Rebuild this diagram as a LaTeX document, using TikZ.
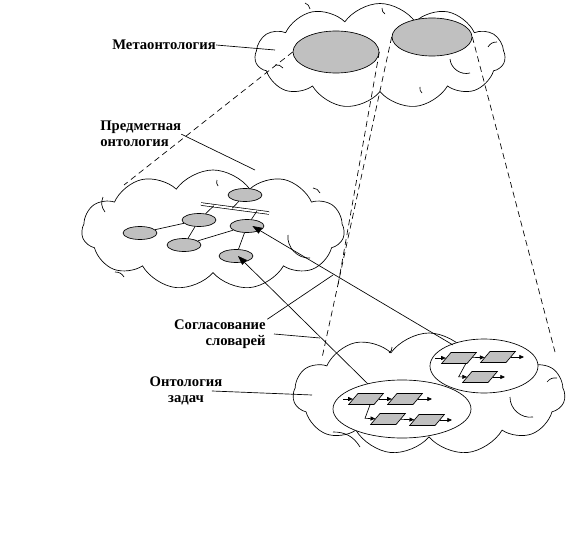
\documentclass[tikz,border=0pt]{standalone}
\usepackage{fontspec}
\setmainfont{Liberation Serif}
\usepackage{xcolor}
\usepackage{tikz}
\usetikzlibrary{arrows.meta,shapes.symbols,shapes.geometric,calc}
\definecolor{silver}{RGB}{192,192,192}

\begin{document}
\begin{tikzpicture}[x=0.75pt,y=-0.75pt,line width=0.5pt]
    \tikzstyle{cloudy} = [draw,cloud,cloud puffs=11,cloud puff arc=110,fill=white,inner sep=0pt]
    \tikzstyle{concept} = [draw,ellipse,fill=silver,inner sep=0pt,minimum width=25.5pt,minimum height=9.75pt]
    \tikzstyle{group} = [draw,ellipse,fill=white,inner sep=0pt]
    \tikzstyle{task} = [draw,trapezium,trapezium left angle=60,trapezium right angle=120,trapezium stretches=true,fill=silver,inner sep=0.5pt,minimum width=26pt,minimum height=8.25pt]
    \tikzstyle{lbl} = [font=\bfseries\fontsize{11}{12}\selectfont,inner sep=0pt]
    \tikzstyle{proj} = [dash pattern=on 4.5pt off 3pt]
    \tikzstyle{flow} = [-{Triangle[length=7pt,width=5pt]}]
    \tikzstyle{small} = [-{Triangle[length=3.5pt,width=3pt]}]

    \useasboundingbox (0,0) rectangle (568,560);

    % clouds
    \node[cloudy,minimum width=187.5pt,minimum height=78.75pt] (meta) at (380,56) {};
    \node[cloudy,minimum width=197pt,minimum height=90pt] (subj) at (213,230) {};
    \node[cloudy,minimum width=204pt,minimum height=91.5pt] (tasks) at (429,394) {};

    % inner puff lines
    \draw (450,59) to[bend right=50] (470,73);
    \draw (488,47) to[bend left=30] (497,42);
    \draw (275,65) to[bend left=30] (283,68);
    \draw (305,3) to[bend left=30] (310,9);
    \draw (382,8) to[bend right=30] (385,14);
    \draw (420,87) to[bend right=30] (422,93);
    \draw (288,235) to[bend right=50] (310,258);
    \draw (103,197) to[bend right=30] (105,212);
    \draw (115,272) to[bend left=30] (124,277);
    \draw (313,188) to[bend left=30] (320,193);
    \draw (217,180) to[bend right=30] (218,186);
    \draw (510,397) to[bend right=50] (533,417);
    \draw (333,432) to[bend left=30] (360,447);
    \draw (547,382) to[bend left=30] (557,378);
    \draw (392,347) to[bend left=30] (389,353);

    % metaontology
    \node[draw,ellipse,fill=silver,minimum width=64.5pt,minimum height=31.5pt] (metaA) at (336,52) {};
    \node[draw,ellipse,fill=silver,minimum width=60pt,minimum height=28.5pt] (metaB) at (432,37) {};

    % subject ontology
    \node[concept] (ntop) at (245,195) {};
    \node[concept] (nmid) at (199,220) {};
    \node[concept] (nleft) at (140,233) {};
    \node[concept] (nlow) at (184,245) {};
    \node[concept] (nright) at (247,226) {};
    \node[concept] (nbot) at (236,256) {};
    \coordinate (bar1) at (201,204);
    \coordinate (bar2) at (269,213);
    \draw[double,double distance=1.5pt] (bar1) -- (bar2);
    \draw (ntop) -- ($(bar1)!0.46!(bar2)$);
    \draw (nmid) -- ($(bar1)!0.19!(bar2)$);
    \draw (nright) -- ($(bar1)!0.82!(bar2)$);
    \draw (nleft) -- (nmid);
    \draw (nmid) -- (nlow);
    \draw (nlow) -- (nright);
    \draw (nright) -- (nbot);

    % task ontology
    \node[group,minimum width=81pt,minimum height=40.5pt] (groupA) at (484,366) {};
    \node[group,minimum width=103.5pt,minimum height=43.5pt] (groupB) at (402,409) {};

    \node[task] (A1) at (459,358) {};
    \node[task] (A2) at (498,357) {};
    \node[task] (A3) at (480,377) {};
    \coordinate (inA) at (435,358);
    \coordinate (outA2) at (524,357);
    \coordinate (outA3) at (505,377);
    \draw[small] (inA) -- (A1);
    \draw[small] (A1) -- (A2);
    \draw[small] (A2) -- (outA2);
    \draw[small] ([xshift=5pt]A1.south) -- ++(-7,13) -- (A3);
    \draw[small] (A3) -- (outA3);

    \node[task] (B1) at (366,399) {};
    \node[task] (B2) at (405,399) {};
    \node[task] (B3) at (388,419) {};
    \node[task] (B4) at (427,420) {};
    \coordinate (inB) at (343,399);
    \coordinate (outB2) at (432,399);
    \coordinate (outB4) at (452,420);
    \draw[small] (inB) -- (B1);
    \draw[small] (B1) -- (B2);
    \draw[small] (B2) -- (outB2);
    \draw[small] ([xshift=3pt]B1.south) -- ++(-5,13.5) -- (B3);
    \draw[small] (B3) -- (B4);
    \draw[small] (B4) -- (outB4);

    % projections
    \coordinate (subjNW) at (124,185);
    \coordinate (cross) at (338,285);
    \coordinate (tasksNW) at (322,358);
    \coordinate (tasksNE) at (555,352);
    \draw[proj] (metaA.west) -- (subjNW);
    \draw[proj] (metaA.east) -- (cross);
    \draw[proj] (metaB.west) -- (tasksNW);
    \draw[proj] (metaB.east) -- (tasksNE);

    % mapping
    \coordinate (fromA) at (453,345);
    \coordinate (fromB) at (368,384);
    \draw[flow] (fromA) -- ([xshift=4pt]nright.center);
    \draw[flow] (fromB) -- ([xshift=1.5pt]nbot.center);

    % labels
    \node[lbl,anchor=west] (metalbl) at (112,45) {Метаонтология};
    \node[lbl,anchor=north west,align=left] (subjlbl) at (100,121) {Предметная\\онтология};
    \node[lbl,anchor=east,align=right] (agreelbl) at (266,334) {Согласование\\словарей};
    \node[lbl,align=center] (taskslbl) at (186,391) {Онтология\\задач};
    \coordinate (metaptr) at (275,50);
    \coordinate (subjptr) at (255,170);
    \coordinate (agreeptr1) at (320,338);
    \coordinate (agreeptr2) at (333,275);
    \coordinate (tasksptr) at (312,395);
    \draw (metalbl.east) -- (metaptr);
    \draw (subjlbl.east) -- (subjptr);
    \draw ([xshift=6pt]agreelbl.east) -- (agreeptr1);
    \draw ([xshift=1pt]agreelbl.north east) -- (agreeptr2);
    \draw ([xshift=-8pt]taskslbl.east) -- (tasksptr);

\end{tikzpicture}
\end{document}
